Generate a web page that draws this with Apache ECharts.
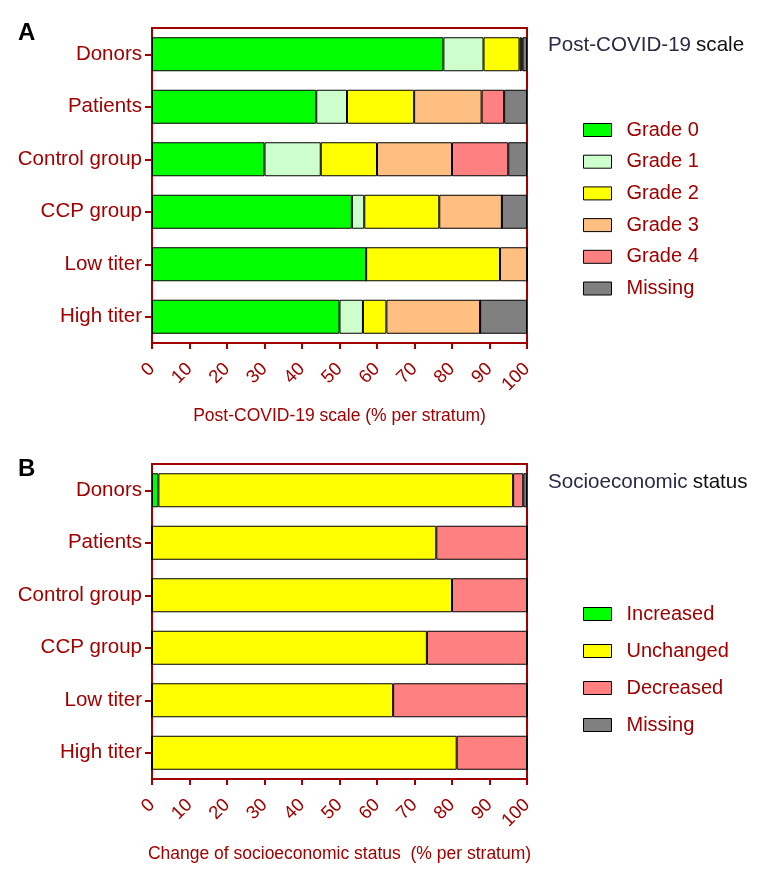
<!DOCTYPE html>
<html>
<head>
<meta charset="utf-8">
<script src="https://cdn.jsdelivr.net/npm/echarts@6/dist/echarts.min.js"></script>
<style>
html,body{margin:0;padding:0;background:#fff;}
#main{width:765px;height:881px;}
</style>
</head>
<body>
<div id="main"></div>
<script>
// ---- data ----
var categories = ['Donors', 'Patients', 'Control group', 'CCP group', 'Low titer', 'High titer'];
var xTicks = [0, 10, 20, 30, 40, 50, 60, 70, 80, 90, 100];

var namesA = ['Grade 0', 'Grade 1', 'Grade 2', 'Grade 3', 'Grade 4', 'Missing'];
var grade0 = [77.7, 43.8, 30, 53.3, 57.1, 50];
var grade1 = [10.7, 8.2, 15, 3.3, 0, 6.25];
var grade2 = [9.6, 17.9, 15, 20, 35.7, 6.25];
var grade3 = [0.5, 18.0, 20, 16.7, 7.2, 25];
var grade4 = [0.3, 6.0, 15, 0, 0, 0];
var missingA = [1.2, 6.1, 5, 6.7, 0, 12.5];

var namesB = ['Increased', 'Unchanged', 'Decreased', 'Missing'];
var increased = [1.7, 0, 0, 0, 0, 0];
var unchanged = [94.6, 75.8, 80, 73.3, 64.3, 81.25];
var decreased = [2.7, 24.2, 20, 26.7, 35.7, 18.75];
var missingB = [1.0, 0, 0, 0, 0, 0];

var colorsA = ['#00ff00', '#ccffcc', '#ffff00', '#ffbf80', '#ff8080', '#808080'];
var colorsB = ['#00ff00', '#ffff00', '#ff8080', '#808080'];

var axisNameA = 'Post-COVID-19 scale (% per stratum)';
var axisNameB = 'Change of socioeconomic status  (% per stratum)';

// ---- chart ----
var RED = '#a00000';
var FONT = "'Liberation Sans', Arial, sans-serif";
var chart = echarts.init(document.getElementById('main'));

function xAxisDef(gi, name, gap) {
  return {
    type: 'value', gridIndex: gi, min: 0, max: 100, interval: 10,
    name: name, nameLocation: 'middle', nameGap: gap,
    nameTextStyle: {color: RED, fontSize: 17.5, fontFamily: FONT},
    axisLine: {show: true, lineStyle: {color: RED, width: 2}},
    axisTick: {show: true, length: 6, lineStyle: {color: RED, width: 2}},
    splitLine: {show: false},
    axisLabel: {
      rotate: 45, margin: 23, color: RED, fontSize: 18.5, fontFamily: FONT,
      formatter: function (v) { return xTicks.indexOf(v) >= 0 ? String(v) : ''; }
    }
  };
}
function yAxisDef(gi) {
  return {
    type: 'category', gridIndex: gi, data: categories, inverse: true,
    axisLine: {show: true, lineStyle: {color: RED, width: 2}},
    axisTick: {show: true, length: 7, alignWithLabel: true, lineStyle: {color: RED, width: 2}},
    axisLabel: {margin: 10, color: RED, fontSize: 20.5, fontFamily: FONT},
    splitLine: {show: false}
  };
}
function barSeries(name, data, color, gi, stack) {
  return {
    name: name, type: 'bar', stack: stack, xAxisIndex: gi, yAxisIndex: gi,
    data: data, barWidth: 34,
    itemStyle: {color: color, borderColor: '#000', borderWidth: 1},
    emphasis: {disabled: true}
  };
}

var seriesA = [grade0, grade1, grade2, grade3, grade4, missingA];
var seriesB = [increased, unchanged, decreased, missingB];
var series = [];
seriesA.forEach(function (d, i) { series.push(barSeries(namesA[i], d, colorsA[i], 0, 'A')); });
seriesB.forEach(function (d, i) { series.push(barSeries(namesB[i], d, colorsB[i], 1, 'B')); });

var richTitle = {
  a: {fontSize: 20.6, color: '#2b2b45', fontFamily: FONT, fontWeight: 'normal'},
  b: {fontSize: 20.6, color: '#111', fontFamily: FONT, fontWeight: 'normal'}
};

var option = {
  animation: false,
  backgroundColor: '#fff',
  textStyle: {fontFamily: FONT},
  title: [
    {text: 'A', left: 13, top: 16, textStyle: {fontSize: 24, fontWeight: 'bold', color: '#000', fontFamily: FONT}},
    {text: 'B', left: 13, top: 452, textStyle: {fontSize: 24, fontWeight: 'bold', color: '#000', fontFamily: FONT}},
    {text: '{a|Post-COVID-19} {b|scale}', left: 543, top: 30, textStyle: {fontWeight: 'normal', rich: richTitle}},
    {text: '{a|Socioeconomic} {b|status}', left: 543, top: 467, textStyle: {fontWeight: 'normal', rich: richTitle}}
  ],
  grid: [
    {left: 152, top: 28, width: 375, height: 315, show: true, borderColor: RED, borderWidth: 2, backgroundColor: '#fff'},
    {left: 152, top: 464, width: 375, height: 315, show: true, borderColor: RED, borderWidth: 2, backgroundColor: '#fff'}
  ],
  xAxis: [xAxisDef(0, axisNameA, 64), xAxisDef(1, axisNameB, 66)],
  yAxis: [yAxisDef(0), yAxisDef(1)],
  legend: [
    {data: namesA, orient: 'vertical', left: 583, top: 120, padding: 0, itemWidth: 28, itemHeight: 13, itemGap: 11.7,
      icon: 'rect', selectedMode: false,
      itemStyle: {borderColor: '#000', borderWidth: 1},
      textStyle: {color: RED, fontSize: 20, fontFamily: FONT, padding: [0, 0, 0, 10]}},
    {data: namesB, orient: 'vertical', left: 583, top: 604, padding: 0, itemWidth: 28, itemHeight: 13, itemGap: 17,
      icon: 'rect', selectedMode: false,
      itemStyle: {borderColor: '#000', borderWidth: 1},
      textStyle: {color: RED, fontSize: 20, fontFamily: FONT, padding: [0, 0, 0, 10]}}
  ],
  series: series
};
chart.setOption(option);
</script>
</body>
</html>
